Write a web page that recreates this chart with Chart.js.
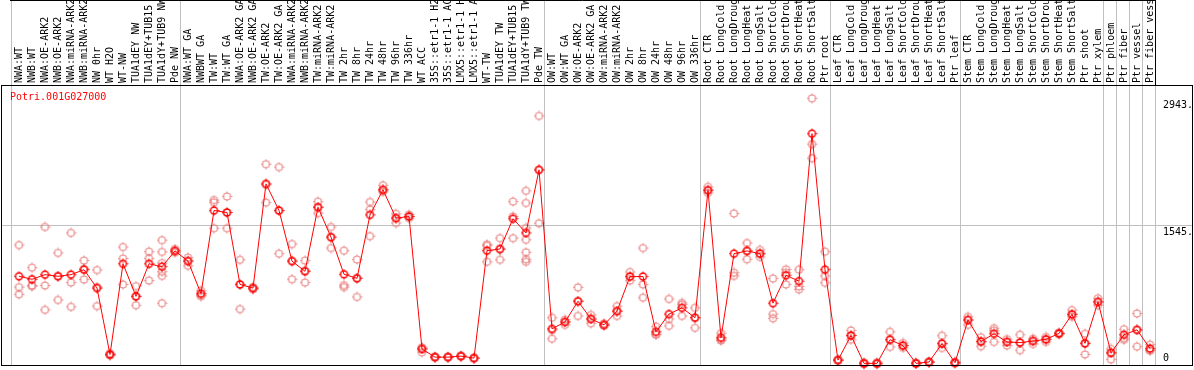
<!DOCTYPE html>
<html>
<head>
<meta charset="utf-8">
<script src="https://cdn.jsdelivr.net/npm/chart.js@4"></script>
<style>
  body { margin: 0; background: #fff; }
  #chart { display: block; }
</style>
</head>
<body>
<canvas id="chart" width="1194" height="370"></canvas>
<script>
const geneName = 'Potri.001G027000';

const categories = [
  'NWA:WT', 'NWB:WT', 'NWA:OE-ARK2', 'NWB:OE-ARK2', 'NWA:miRNA-ARK2', 'NWB:miRNA-ARK2',
  'NW 0hr', 'WT H2O', 'WT-NW', 'TUA1dEY NW', 'TUA1dEY+TUB15 NW', 'TUA1dY+TUB9 NW', 'Pde NW',
  'NWA:WT GA', 'NWBWT GA', 'TW:WT', 'TW:WT GA', 'NWA:OE-ARK2 GA', 'NWB:OE-ARK2 GA',
  'TW:OE-ARK2', 'TW:OE-ARK2 GA', 'NWA:miRNA-ARK2 GA', 'NWB:miRNA-ARK2 GA', 'TW:miRNA-ARK2',
  'TW:miRNA-ARK2', 'TW 2hr', 'TW 8hr', 'TW 24hr', 'TW 48hr', 'TW 96hr', 'TW 336hr', 'WT ACC',
  '35S::etr1-1 H2O', '35S::etr1-1 ACC', 'LMX5::etr1-1 H2O', 'LMX5::etr1-1 ACC', 'WT-TW',
  'TUA1dEY TW', 'TUA1dEY+TUB15 TW', 'TUA1dY+TUB9 TW', 'Pde TW',
  'OW:WT', 'OW:WT GA', 'OW:OE-ARK2', 'OW:OE-ARK2 GA', 'OW:miRNA-ARK2', 'OW:miRNA-ARK2',
  'OW 2hr', 'OW 8hr', 'OW 24hr', 'OW 48hr', 'OW 96hr', 'OW 336hr',
  'Root CTR', 'Root LongCold', 'Root LongDrought', 'Root LongHeat', 'Root LongSalt',
  'Root ShortCold', 'Root ShortDrought', 'Root ShortHeat', 'Root ShortSalt', 'Ptr root',
  'Leaf CTR', 'Leaf LongCold', 'Leaf LongDrought', 'Leaf LongHeat', 'Leaf LongSalt',
  'Leaf ShortCold', 'Leaf ShortDrought', 'Leaf ShortHeat', 'Leaf ShortSalt', 'Ptr leaf',
  'Stem CTR', 'Stem LongCold', 'Stem LongDrought', 'Stem LongHeat', 'Stem LongSalt',
  'Stem ShortCold', 'Stem ShortDrought', 'Stem ShortHeat', 'Stem ShortSalt', 'Ptr shoot',
  'Ptr xylem', 'Ptr phloem', 'Ptr fiber', 'Ptr vessel', 'Ptr fiber vessel'
];

// mean expression per sample
const means = [
  979, 946, 997, 979, 997, 1052, 849, 116, 1117, 758, 1117, 1085, 1259,
  1146, 787, 1705, 1683, 889, 849, 1999, 1705, 1146, 1034, 1741, 1411, 1001, 957, 1657,
  1933, 1621, 1639, 177, 87, 87, 98, 76, 1262, 1280, 1614, 1458, 2154,
  399, 475, 704, 508, 443, 595, 976, 976, 366, 562, 631, 522,
  1929, 301, 1229, 1259, 1229, 682, 990, 925, 2553, 1052,
  54, 326, 18, 18, 279, 214, 18, 33, 236, 25,
  497, 258, 345, 254, 247, 265, 283, 348, 559, 239, 696,
  134, 334, 388, 182
];

// individual replicates per sample
const replicates = [
  [1324, 859, 780], [1074, 878, 870], [1523, 878, 609], [1237, 718, 982], [1458, 910, 642],
  [1153, 943, 1060], [1048, 860, 650], [130, 110, 105], [1302, 1175, 889], [870, 660, 758],
  [1251, 1175, 932], [1378, 1248, 1125, 1030, 983, 682], [1280, 1259, 1240],
  [1186, 1095, 1150], [820, 770, 760], [1820, 1795, 1509], [1860, 1683, 1509], [1161, 889, 617],
  [860, 845, 835], [2216, 1792, 1989], [2184, 1229, 1705], [1335, 947, 1150], [1153, 910, 1040],
  [1803, 1676, 1741], [1523, 1291, 1411], [1262, 881, 859], [1164, 751, 957], [1799, 1716, 1422],
  [1983, 1933, 1910], [1668, 1621, 1567], [1660, 1639, 1620], [195, 177, 140], [90, 85, 87],
  [92, 83, 87], [105, 95, 95], [80, 72, 76], [1331, 1139, 1316], [1400, 1161, 1280],
  [1803, 1639, 1400], [1922, 1788, 1512, 1382, 1244, 1167, 1139], [2749, 1563, 2154],
  [522, 290, 385], [500, 443, 475], [856, 541, 704], [552, 460, 508], [460, 435, 440],
  [650, 541, 595], [1026, 932, 976], [1291, 889, 743], [424, 334, 340], [729, 508, 432],
  [685, 667, 541], [631, 410, 522],
  [1966, 1929, 1900], [351, 279, 270], [1672, 1019, 983], [1346, 1259, 1167], [1270, 1229, 1193],
  [954, 562, 515], [1055, 1019, 889], [1052, 867, 834], [2943, 2437, 2281], [1251, 983, 907],
  [60, 50, 52], [381, 326, 279], [30, 15, 10], [30, 15, 10], [366, 279, 200], [243, 214, 190],
  [25, 15, 15], [40, 30, 30], [323, 236, 188], [35, 20, 20],
  [533, 443, 497], [305, 207, 258], [406, 380, 254], [285, 254, 214], [334, 247, 163],
  [290, 265, 232], [310, 283, 255], [360, 348, 336], [606, 559, 533], [345, 239, 116],
  [736, 696, 660], [177, 62, 134], [395, 297, 279], [569, 388, 203], [225, 163, 160]
];

const yTickValues = [0, 1545, 2943];
const yMax = 3090;
// group separators: index of first sample of each group (plus end)
const groupStarts = [0, 13, 41, 53, 63, 73, 84, 85, 86, 87, 88];

const monoFont = '10px "DejaVu Sans Mono", "Liberation Mono", monospace';

function marker(color, lw) {
  const c = document.createElement('canvas');
  c.width = 11; c.height = 11;
  const g = c.getContext('2d');
  g.strokeStyle = color;
  g.lineWidth = lw;
  g.beginPath();
  g.arc(5.5, 5.5, 3.5, 0, Math.PI * 2);
  g.stroke();
  g.lineWidth = 1;
  g.beginPath();
  g.moveTo(5.5, 0.5); g.lineTo(5.5, 2.5);
  g.moveTo(5.5, 8.5); g.lineTo(5.5, 10.5);
  g.moveTo(0.5, 5.5); g.lineTo(2.5, 5.5);
  g.moveTo(8.5, 5.5); g.lineTo(10.5, 5.5);
  g.stroke();
  return c;
}

const meanMarker = marker('#ff0000', 1.4);
const repMarker = marker('rgba(232,120,120,0.85)', 1.2);

const repPoints = [];
replicates.forEach((reps, i) => {
  reps.forEach(v => repPoints.push({ x: i, y: v }));
});

const frame = {
  id: 'frame',
  beforeDraw(chart) {
    const ctx = chart.ctx;
    const ys = chart.scales.y;
    const area = chart.chartArea;
    const band = (area.right - area.left) / categories.length;
    ctx.save();
    ctx.strokeStyle = '#c0c0c0';
    ctx.lineWidth = 1;
    groupStarts.forEach(i => {
      const x = Math.round(area.left + band * i - 2) + 0.5;
      ctx.beginPath();
      ctx.moveTo(x, 0);
      ctx.lineTo(x, area.bottom);
      ctx.stroke();
    });
    const ym = Math.round(ys.getPixelForValue(yTickValues[1])) + 0.5;
    ctx.beginPath();
    ctx.moveTo(1, ym);
    ctx.lineTo(1193, ym);
    ctx.stroke();
    ctx.restore();
  },
  afterDraw(chart) {
    const ctx = chart.ctx;
    const ys = chart.scales.y;
    const area = chart.chartArea;
    const band = (area.right - area.left) / categories.length;
    const endX = Math.round(area.left + band * categories.length - 2) + 0.5;
    ctx.save();
    ctx.strokeStyle = '#000';
    ctx.lineWidth = 1;
    ctx.beginPath();
    ctx.moveTo(10, 0.5); ctx.lineTo(endX, 0.5);
    ctx.moveTo(endX, 0); ctx.lineTo(endX, area.top);
    ctx.stroke();
    ctx.strokeRect(1.5, area.top + 0.5, 1191, area.bottom - area.top);

    ctx.font = monoFont;
    ctx.fillStyle = '#ff0000';
    ctx.textAlign = 'left';
    ctx.textBaseline = 'middle';
    ctx.fillText(geneName, 10, area.top + 12);

    ctx.fillStyle = '#000';
    yTickValues.forEach(v => {
      const y = ys.getPixelForValue(v);
      const ty = v === 0 ? y - 7 : y + 7;
      ctx.fillText(v === 0 ? '0' : v + '.', 1163, ty);
    });
    ctx.restore();
  }
};

new Chart(document.getElementById('chart'), {
  type: 'line',
  data: {
    labels: categories,
    datasets: [
      {
        data: means,
        borderColor: '#ff0000',
        borderWidth: 1,
        pointStyle: meanMarker,
        pointRadius: 4,
        tension: 0,
        clip: false
      },
      {
        data: repPoints,
        xAxisID: 'xr',
        showLine: false,
        pointStyle: repMarker,
        pointRadius: 4,
        clip: false
      }
    ]
  },
  options: {
    responsive: false,
    devicePixelRatio: 1,
    animation: false,
    layout: { padding: { left: 12.5, right: 37.5, top: 0, bottom: 1 } },
    plugins: { legend: { display: false }, tooltip: { enabled: false } },
    scales: {
      x: {
        type: 'category',
        position: 'top',
        offset: true,
        grid: { display: false, drawTicks: false },
        border: { display: false },
        ticks: {
          autoSkip: false,
          minRotation: 90,
          maxRotation: 90,
          padding: 2,
          labelOffset: 12,
          color: '#000',
          font: { family: '"DejaVu Sans Mono", "Liberation Mono", monospace', size: 10 }
        },
        afterFit(scale) { scale.height = 85; }
      },
      xr: {
        type: 'linear',
        display: false,
        min: -0.5,
        max: categories.length - 0.5
      },
      y: {
        display: false,
        min: 0,
        max: yMax
      }
    }
  },
  plugins: [frame]
});
</script>
</body>
</html>
